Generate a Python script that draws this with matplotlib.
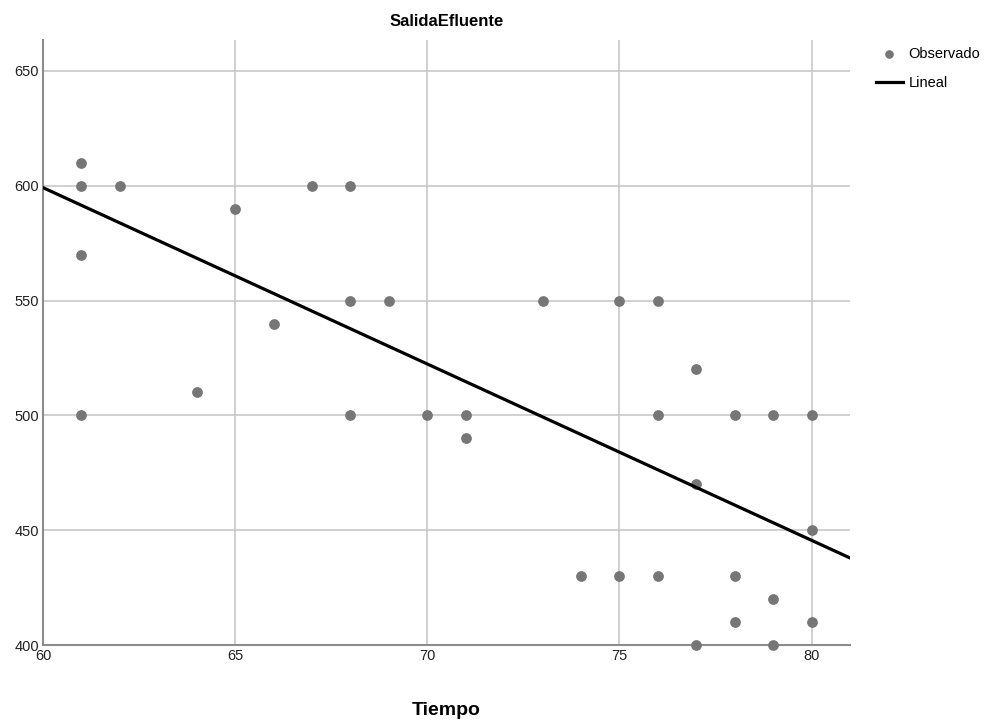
import numpy as np
import matplotlib
matplotlib.use("Agg")
import matplotlib.pyplot as plt

plt.rcParams['font.family'] = ['Liberation Sans', 'DejaVu Sans']

# observed points (Tiempo, SalidaEfluente)
tiempo = [61, 61, 61, 61, 62, 64, 65, 66, 67, 68, 68, 68, 69, 70, 71, 71, 73,
          74, 75, 75, 76, 76, 76, 77, 77, 77, 78, 78, 78, 79, 79, 79, 80, 80, 80]
salida = [610, 600, 570, 500, 600, 510, 590, 540, 600, 600, 550, 500, 550, 500,
          500, 490, 550, 430, 550, 430, 550, 500, 430, 520, 470, 400, 500, 430,
          410, 500, 420, 400, 500, 450, 410]

# linear fit coefficients
b0 = 1060.0
b1 = -7.68
x_range = [60, 81]

fig = plt.figure(figsize=(9.9, 7.22), dpi=100)
ax = fig.add_axes([0.0434, 0.1066, 0.8152, 0.838])

ax.scatter(tiempo, salida, s=60, color='#767676', zorder=3, label='Observado',
           clip_on=False, linewidths=0)
xl = np.array(x_range, dtype=float)
ax.plot(xl, b0 + b1 * xl, color='black', lw=2.3, zorder=4, label='Lineal')

ax.set_xlim(60, 81)
ax.set_ylim(400, 663.5)
ax.set_xticks([60, 65, 70, 75, 80])
ax.set_yticks([400, 450, 500, 550, 600, 650])
ax.grid(True, color='#c8c8c8', lw=1.2, zorder=0)
ax.set_axisbelow(True)
for s in ['top', 'right']:
    ax.spines[s].set_visible(False)
for s in ['left', 'bottom']:
    ax.spines[s].set_color('#8c8c8c')
    ax.spines[s].set_linewidth(1.5)
ax.tick_params(length=0, labelsize=10.5, colors='#222222', pad=3)

ax.set_title('SalidaEfluente', fontsize=12, fontweight='bold', pad=10)
ax.set_xlabel('Tiempo', fontsize=14, fontweight='bold', labelpad=28)

ax.legend(loc='upper left', bbox_to_anchor=(1.019, 1.005), frameon=False,
          fontsize=10.5, handlelength=1.85, handletextpad=0.4, labelspacing=1.0,
          borderpad=0.2, markerscale=0.8)

fig.savefig('out.png', dpi=100)
